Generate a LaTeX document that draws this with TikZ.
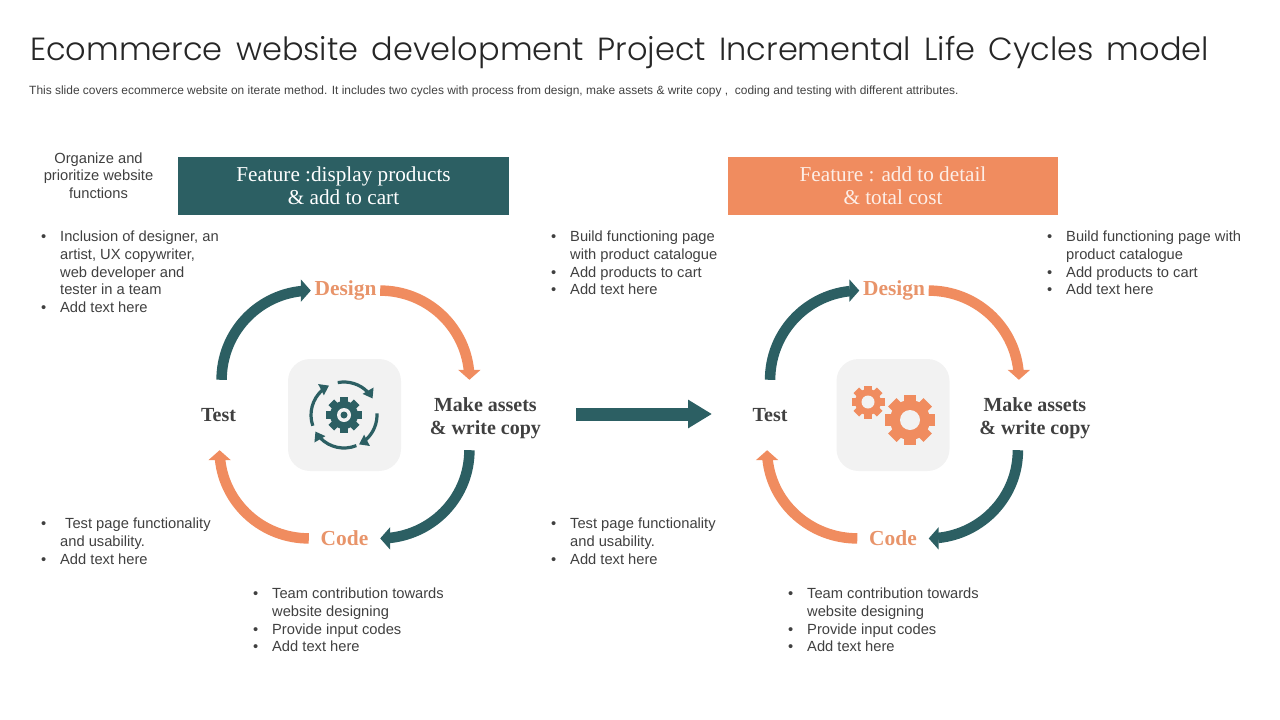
\documentclass[tikz,border=0pt]{standalone}
\usepackage{fontspec}
\setmainfont{Liberation Sans}
\newfontfamily\titlefont{Poppins}[UprightFont=* Light,WordSpace=1.5]
\newfontfamily\labelfont{Liberation Serif}
\definecolor{ecteal}{HTML}{2C5F63}
\definecolor{ecorange}{HTML}{F08C5F}
\definecolor{ecsoft}{HTML}{E8946A}
\definecolor{ecgrey}{HTML}{F2F2F2}
\definecolor{ectext}{HTML}{404040}
\usetikzlibrary{arrows.meta,bending,positioning}
\newcommand{\bul}{\makebox[19pt][l]{\textbullet}}
\newcommand{\ind}{\hspace*{19pt}}
\newcommand{\gearicon}[6]{%
  \fill[#6] (#1) circle[radius=#3];
  \foreach \a in {0,45,90,135}
    \fill[#6,shift={(#1)},rotate=\a] (-#4,-#2) rectangle (#4,#2);
  \fill[ecgrey] (#1) circle[radius=#5];}

\begin{document}
\begin{tikzpicture}[x=1pt,y=-1pt,
  every node/.style={inner sep=0pt},
  notes/.style={align=left,anchor=north west,text=ectext,font=\fontsize{14.7}{17.6}\selectfont},
  feat/.style={minimum height=58pt,align=center,
    font=\labelfont\fontsize{21.2}{23}\selectfont},
  iconbox/.style={fill=ecgrey,rounded corners=22pt,minimum width=113pt,minimum height=112pt},
  word/.style={font=\labelfont\bfseries\fontsize{20}{23}\selectfont,align=center},
  soft/.style={word,text=ecsoft,minimum height=24pt,font=\labelfont\bfseries\fontsize{21.4}{23}\selectfont},
  dark/.style={word,text=ectext,minimum height=70pt},
  tealarr/.style={-{Triangle[length=10pt,width=22pt,flex=0]},line width=10.5pt,ecteal},
  orarr/.style={-{Triangle[length=10pt,width=22pt,flex=0]},line width=10.5pt,ecorange},
  turn/.style={-{Triangle[length=9pt,width=12pt,flex=0]},line width=3.2pt,ecteal}]
  \useasboundingbox (0,0) rectangle (1280,720);

  \node[anchor=west,text=black!85,font=\titlefont\fontsize{32}{38}\selectfont] (title) at (30,53)
    {Ecommerce website development Project Incremental Life Cycles model};
  \node[anchor=west,text=ectext,font=\fontsize{11.95}{14}\selectfont] (subtitle) at (29,91)
    {This slide covers ecommerce website on iterate method. It includes two cycles with process from design, make assets \& write copy ,\ \ coding and testing with different attributes.};

  \node[align=center,text=ectext,font=\fontsize{14.7}{17.6}\selectfont] (organize) at (98.5,175.5)
    {Organize and\\prioritize website\\functions};
  \node[feat,minimum width=331pt,fill=ecteal,text=white] (featone) at (343.5,186) {Feature :display products\\\& add to cart};
  \node[feat,minimum width=330pt,fill=ecorange,text=white!85!ecorange] (feattwo) at (893,186) {Feature : add to detail\\\& total cost};

  % first cycle
  \node[iconbox] (iconone) at (344.5,415) {};
  \node[soft,above=56pt of iconone,minimum width=69pt,xshift=1pt] (designone) {Design};
  \node[soft,below=55pt of iconone,minimum width=71pt] (codeone) {Code};
  \node[dark,left=49pt of iconone,minimum width=40pt] (testone) {Test};
  \node[dark,right=28pt of iconone,minimum width=112pt,yshift=-3pt] (makeone) {Make assets\\\& write copy};
  \draw[tealarr] ([xshift=3pt]testone.north) to[out=90,in=180] (designone.west);
  \draw[orarr] (designone.east) to[out=0,in=90] ([xshift=-16pt,yshift=3pt]makeone.north);
  \draw[tealarr] ([xshift=-16pt,yshift=3pt]makeone.south) to[out=270,in=0] (codeone.east);
  \draw[orarr] (codeone.west) to[out=180,in=270] ([xshift=1pt]testone.south);
  \gearicon{344,415}{18}{14}{4}{7}{ecteal}
  \fill[ecteal] (344,415) circle[radius=3.5];
  \foreach \s/\e in {-101/-30,-3/63,68/150,161/243}
    \draw[turn] (344,415) ++(\s:33) arc[start angle=\s,end angle=\e,radius=33];

  % between the cycles
  \coordinate (flowstart) at (576,414);
  \coordinate (flowend) at (712,414);
  \draw[-{Triangle[length=24pt,width=27pt]},line width=13pt,ecteal] (flowstart) -- (flowend);

  % second cycle
  \node[iconbox] (icontwo) at (893,415) {};
  \node[soft,above=56pt of icontwo,minimum width=69pt,xshift=1pt] (designtwo) {Design};
  \node[soft,below=55pt of icontwo,minimum width=71pt] (codetwo) {Code};
  \node[dark,left=46pt of icontwo,minimum width=40pt] (testtwo) {Test};
  \node[dark,right=29pt of icontwo,minimum width=112pt,yshift=-3pt] (maketwo) {Make assets\\\& write copy};
  \draw[tealarr] ([xshift=0pt]testtwo.north) to[out=90,in=180] (designtwo.west);
  \draw[orarr] (designtwo.east) to[out=0,in=90] ([xshift=-16pt,yshift=3pt]maketwo.north);
  \draw[tealarr] ([xshift=-17pt,yshift=3pt]maketwo.south) to[out=270,in=0] (codetwo.east);
  \draw[orarr] (codetwo.west) to[out=180,in=270] ([xshift=-3pt]testtwo.south);
  \gearicon{868,402}{16.5}{13}{4}{6.5}{ecorange}
  \gearicon{910,420}{25}{20}{6}{10}{ecorange}

  % text blocks
  \node[notes] (teamone) at (41,231) {\bul Inclusion of designer, an\\\ind artist, UX copywriter,\\\ind web developer and\\\ind tester in a team\\\bul Add text here};
  \node[notes] (buildone) at (551,231) {\bul Build functioning page\\\ind with product catalogue\\\bul Add products to cart\\\bul Add text here};
  \node[notes] (buildtwo) at (1047,231) {\bul Build functioning page with\\\ind product catalogue\\\bul Add products to cart\\\bul Add text here};
  \node[notes] (checkone) at (41,518) {\bul\hspace{5pt}Test page functionality\\\ind and usability.\\\bul Add text here};
  \node[notes] (checktwo) at (551,518) {\bul Test page functionality\\\ind and usability.\\\bul Add text here};
  \node[notes] (codenotesone) at (253,588) {\bul Team contribution towards\\\ind website designing\\\bul Provide input codes\\\bul Add text here};
  \node[notes] (codenotestwo) at (788,588) {\bul Team contribution towards\\\ind website designing\\\bul Provide input codes\\\bul Add text here};
\end{tikzpicture}
\end{document}
